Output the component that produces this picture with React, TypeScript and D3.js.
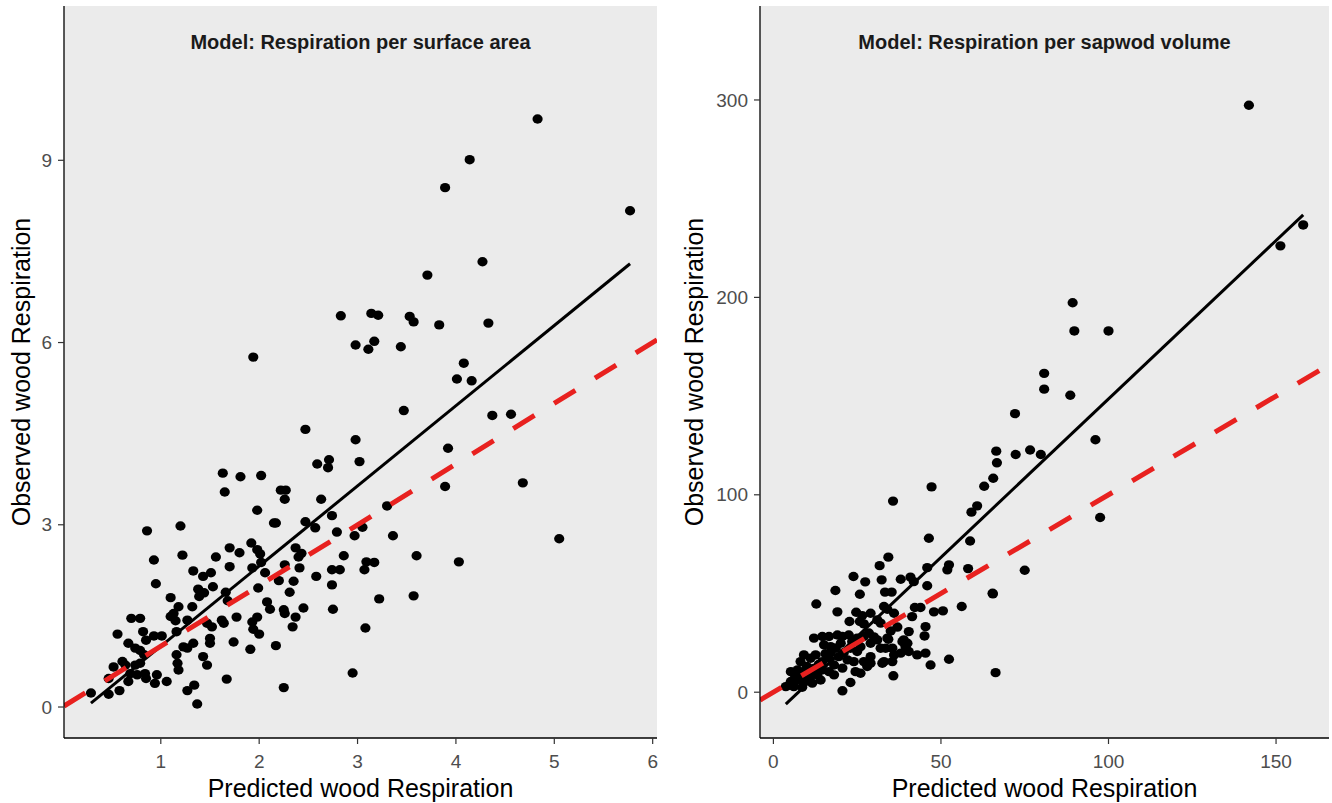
import React from "react";
import * as d3 from "d3";

// ---------- data ----------
// Left panel: [predicted, observed]
const leftPoints: [number, number][] = [
  [4.83, 9.68], [4.14, 9.01], [3.89, 8.55], [5.77, 8.17], [1.94, 5.76],
  [4.27, 7.33], [3.71, 7.11], [2.83, 6.44], [3.14, 6.48], [3.21, 6.45], [3.53, 6.43],
  [3.57, 6.34], [3.83, 6.29], [4.33, 6.32], [2.98, 5.96], [3.17, 6.02], [3.11, 5.89],
  [3.44, 5.93], [4.08, 5.66], [4.01, 5.4], [4.16, 5.37], [2.47, 4.57], [3.47, 4.88],
  [4.37, 4.8], [4.56, 4.82], [2.98, 4.4], [3.92, 4.26], [2.59, 4.0], [2.71, 4.07],
  [2.7, 3.94], [3.02, 4.04], [3.89, 3.63], [4.68, 3.69], [2.63, 3.42], [3.3, 3.31],
  [2.74, 3.15], [2.47, 3.05], [2.57, 2.95], [2.79, 2.88], [3.05, 2.96], [2.97, 2.82],
  [3.36, 2.82], [5.05, 2.77], [2.43, 2.53], [2.86, 2.49], [3.6, 2.49], [4.03, 2.39],
  [3.09, 2.39], [3.17, 2.38], [2.74, 2.26], [2.82, 2.26], [3.07, 2.26], [2.58, 2.15],
  [1.63, 3.85], [1.81, 3.79], [2.02, 3.81], [1.65, 3.54], [2.22, 3.57], [2.27, 3.57],
  [2.26, 3.42], [1.98, 3.24], [2.15, 3.03], [2.17, 3.03], [1.2, 2.98], [1.92, 2.7],
  [1.98, 2.59], [2.01, 2.52], [1.7, 2.62], [1.8, 2.54], [2.37, 2.62], [2.4, 2.47],
  [1.22, 2.5], [1.56, 2.47], [0.93, 2.42], [2.02, 2.38], [1.7, 2.31], [1.93, 2.29],
  [2.26, 2.34], [2.41, 2.29], [2.06, 2.21], [1.33, 2.24], [1.51, 2.21], [1.43, 2.15],
  [2.2, 2.08], [2.35, 2.07], [0.95, 2.03], [1.53, 1.98], [1.99, 1.96], [1.38, 1.94],
  [1.44, 1.88], [1.39, 1.82], [2.31, 1.89], [1.66, 1.89], [1.1, 1.8], [2.74, 2.01],
  [1.68, 1.75],
  [0.86, 2.9], [0.7, 1.46], [0.79, 1.46], [0.56, 1.2], [0.82, 1.24], [0.85, 1.1],
  [0.67, 1.05], [0.74, 0.97], [0.79, 0.93], [0.83, 0.86], [0.52, 0.66], [0.61, 0.75],
  [0.64, 0.69], [0.74, 0.69], [0.79, 0.72], [0.69, 0.55], [0.67, 0.42], [0.76, 0.53],
  [0.84, 0.55], [0.85, 0.47], [0.47, 0.47], [0.58, 0.27], [0.47, 0.21], [0.29, 0.23],
  [0.96, 0.53], [0.94, 0.39], [1.06, 0.42], [0.93, 1.17], [1.01, 1.17], [1.18, 1.65],
  [1.13, 1.54], [1.1, 1.49], [1.15, 1.42], [1.32, 1.65], [1.27, 1.43], [1.16, 1.24],
  [1.16, 0.86], [1.17, 0.72], [1.18, 0.61], [1.23, 0.99], [1.27, 0.97], [1.33, 1.05],
  [1.43, 0.83], [1.47, 0.69], [1.27, 0.27], [1.34, 0.36], [1.37, 0.05], [1.5, 1.13],
  [1.5, 1.05], [1.47, 1.38], [1.52, 1.32], [1.67, 0.46], [1.74, 1.07], [1.91, 0.95],
  [2.0, 1.2], [1.93, 1.4], [1.94, 1.28], [1.98, 1.48], [1.77, 1.48], [1.62, 1.43],
  [1.64, 1.38], [2.08, 1.73], [2.11, 1.61], [2.17, 1.01], [2.25, 1.6], [2.26, 1.54],
  [2.37, 1.48], [2.34, 1.32], [2.45, 1.63], [2.25, 0.32], [2.75, 1.61], [3.08, 1.3],
  [2.95, 0.56], [3.22, 1.78], [3.57, 1.83],
];

// Right panel: [predicted, observed]
const rightPoints: [number, number][] = [
  [141.9, 297.3], [158.1, 236.7], [151.3, 226.1], [89.3, 197.3], [89.8, 183.0], [100.0, 183.0],
  [80.8, 161.5], [80.8, 153.5], [88.6, 150.4], [72.1, 141.1], [96.1, 127.9], [66.5, 122.1],
  [72.3, 120.4], [76.6, 122.7], [79.8, 120.4], [66.7, 116.2], [65.6, 108.4], [62.9, 104.3],
  [47.2, 104.0], [35.7, 96.8], [60.8, 94.4], [59.1, 91.2], [97.5, 88.5], [46.4, 78.0],
  [58.7, 76.6], [75.0, 61.8], [65.4, 50.1], [66.3, 9.9],
  [34.3, 68.4], [31.7, 64.1], [45.9, 63.1], [52.4, 64.5], [51.9, 62.0], [58.1, 62.6],
  [23.9, 58.6], [27.4, 55.9], [32.3, 56.9], [38.0, 57.2], [40.9, 58.3], [41.9, 56.0],
  [45.9, 53.9], [18.5, 51.5], [25.8, 49.6], [33.3, 50.7], [35.3, 50.7], [65.5, 49.8],
  [56.2, 43.4], [19.1, 40.7], [24.7, 40.5], [26.5, 38.8], [29.0, 40.0], [33.0, 43.4],
  [34.0, 42.0], [36.0, 40.0], [42.2, 42.9], [43.9, 42.9], [47.9, 40.7], [50.6, 41.2],
  [22.7, 35.8], [25.8, 35.8], [27.0, 34.6], [32.0, 35.0], [45.4, 33.2], [12.8, 44.7],
  [45.1, 28.5], [46.9, 13.8], [52.4, 16.7], [35.8, 8.3], [40.0, 24.8], [40.4, 20.6],
  [42.9, 18.9], [45.4, 19.8], [34.3, 26.8], [23.0, 4.9], [20.6, 0.7], [29.0, 14.7],
  [32.5, 14.7], [38.0, 19.8], [39.4, 23.1], [38.9, 26.5], [40.4, 30.7], [41.4, 38.3],
  [31.0, 36.6],
  [12.1, 27.4], [14.6, 28.2], [16.6, 28.2], [19.1, 29.0], [20.6, 28.2], [22.5, 29.0],
  [25.0, 27.4], [27.0, 28.2], [15.1, 24.0], [17.1, 23.1], [18.6, 22.3], [20.1, 24.8],
  [23.0, 22.3], [25.0, 20.6], [29.0, 24.8], [31.0, 26.5], [32.0, 22.3], [33.5, 22.3],
  [35.5, 22.3], [34.0, 27.4], [38.5, 25.6], [29.0, 18.0], [33.0, 15.5], [35.5, 15.5],
  [36.0, 18.9], [9.1, 18.9], [8.1, 15.5], [11.1, 17.2], [12.6, 18.9], [14.6, 15.5],
  [16.6, 17.2], [18.1, 13.8], [20.6, 12.2], [22.1, 16.4], [24.0, 15.5], [24.5, 10.4],
  [26.0, 9.6], [27.0, 15.5], [28.0, 13.0], [5.2, 10.4], [7.2, 11.3], [9.1, 10.4],
  [11.1, 9.6], [13.1, 8.8], [14.6, 11.3], [16.6, 10.4], [18.1, 8.8], [5.2, 5.4],
  [7.2, 6.2], [9.1, 5.4], [11.6, 4.6], [3.7, 2.8], [6.1, 2.8], [8.6, 2.5],
  [14.1, 6.2], [4.7, 3.5],
  [6.5, 8.0], [10.0, 13.0], [12.0, 12.0], [13.5, 14.0], [17.0, 20.0], [19.5, 18.0],
  [21.0, 20.0], [10.5, 6.8], [15.5, 19.5], [23.5, 25.5], [26.0, 23.0], [28.5, 30.0],
  [30.0, 28.0], [37.0, 33.0], [35.0, 31.0], [7.8, 8.6],
];

const leftXTicks = [1, 2, 3, 4, 5, 6];
const leftYTicks = [0, 3, 6, 9];
const rightXTicks = [0, 50, 100, 150];
const rightYTicks = [0, 100, 200, 300];

// fitted regression lines (slope, intercept, x-range)
const leftFit = { slope: 1.32, intercept: -0.32, from: 0.29, to: 5.77 };
const rightFit = { slope: 1.605, intercept: -11.95, from: 3.7, to: 158.1 };

const titles = ["Model: Respiration per surface area", "Model: Respiration per sapwod volume"];
const xTitle = "Predicted wood Respiration";
const yTitle = "Observed wood Respiration";

// ---------- layout ----------
const FONT = "'Liberation Sans', Arial, Helvetica, sans-serif";

type PanelProps = {
  points: [number, number][];
  xTicks: number[];
  yTicks: number[];
  fit: { slope: number; intercept: number; from: number; to: number };
  xDomain: [number, number];
  yDomain: [number, number];
  box: { x0: number; x1: number; y0: number; y1: number };
  title: string;
  yTitleX: number;
  id: string;
};

function Panel({ points, xTicks, yTicks, fit, xDomain, yDomain, box, title, yTitleX, id }: PanelProps) {
  const x = d3.scaleLinear().domain(xDomain).range([box.x0, box.x1]);
  const y = d3.scaleLinear().domain(yDomain).range([box.y1, box.y0]);
  const line = d3
    .line<[number, number]>()
    .x((d) => x(d[0]))
    .y((d) => y(d[1]));
  const fitPath = line([
    [fit.from, fit.intercept + fit.slope * fit.from],
    [fit.to, fit.intercept + fit.slope * fit.to],
  ]);
  const idPath = line([
    [xDomain[0], xDomain[0]],
    [xDomain[1], xDomain[1]],
  ]);
  const cx = (box.x0 + box.x1) / 2;
  const cy = (box.y0 + box.y1) / 2;
  return (
    <g>
      <defs>
        <clipPath id={id}>
          <rect x={box.x0} y={box.y0} width={box.x1 - box.x0} height={box.y1 - box.y0} />
        </clipPath>
      </defs>
      <rect x={box.x0} y={box.y0} width={box.x1 - box.x0} height={box.y1 - box.y0} fill="#ebebeb" />
      <g clipPath={`url(#${id})`}>
        {points.map((p, i) => (
          <ellipse key={i} cx={x(p[0])} cy={y(p[1])} rx={5.1} ry={4.7} fill="#000" />
        ))}
        <path d={fitPath || ""} stroke="#000" strokeWidth={3} fill="none" />
        <path d={idPath || ""} stroke="#e8211f" strokeWidth={5} strokeDasharray="25 23" fill="none" />
      </g>
      <text x={cx} y={49} textAnchor="middle" fontFamily={FONT} fontWeight="bold" fontSize={20} fill="#1a1a1a">
        {title}
      </text>
      <line x1={box.x0} x2={box.x0} y1={box.y0} y2={box.y1} stroke="#000" strokeWidth={1.3} />
      <line x1={box.x0} x2={box.x1} y1={box.y1} y2={box.y1} stroke="#000" strokeWidth={1.3} />
      {xTicks.map((t) => (
        <g key={"x" + t}>
          <line x1={x(t)} x2={x(t)} y1={box.y1} y2={box.y1 + 6} stroke="#333" strokeWidth={1.2} />
          <text x={x(t)} y={box.y1 + 30} textAnchor="middle" fontFamily={FONT} fontSize={19} fill="#4d4d4d">
            {t}
          </text>
        </g>
      ))}
      {yTicks.map((t) => (
        <g key={"y" + t}>
          <line x1={box.x0 - 6} x2={box.x0} y1={y(t)} y2={y(t)} stroke="#333" strokeWidth={1.2} />
          <text x={box.x0 - 12} y={y(t)} dy="0.35em" textAnchor="end" fontFamily={FONT} fontSize={19} fill="#4d4d4d">
            {t}
          </text>
        </g>
      ))}
      <text x={cx} y={797} textAnchor="middle" fontFamily={FONT} fontSize={25} fill="#000">
        {xTitle}
      </text>
      <text
        transform={`translate(${yTitleX},${cy}) rotate(-90)`}
        textAnchor="middle"
        fontFamily={FONT}
        fontSize={25}
        fill="#000"
      >
        {yTitle}
      </text>
    </g>
  );
}

export default function App() {
  return (
    <svg
      width={1332}
      height={803}
      style={{ position: "absolute", left: 0, top: 0, background: "#fff" }}
    >
      <rect x={0} y={0} width={1332} height={803} fill="#fff" />
      <Panel
        id="clipL"
        points={leftPoints}
        xTicks={leftXTicks}
        yTicks={leftYTicks}
        fit={leftFit}
        xDomain={[0.016, 6.044]}
        yDomain={[-0.51, 11.54]}
        box={{ x0: 64, x1: 657, y0: 6, y1: 738 }}
        title={titles[0]}
        yTitleX={30}
      />
      <Panel
        id="clipR"
        points={rightPoints}
        xTicks={rightXTicks}
        yTicks={rightYTicks}
        fit={rightFit}
        xDomain={[-4.0, 165.8]}
        yDomain={[-23.2, 347.6]}
        box={{ x0: 760, x1: 1329, y0: 6, y1: 738 }}
        title={titles[1]}
        yTitleX={703}
      />
    </svg>
  );
}
